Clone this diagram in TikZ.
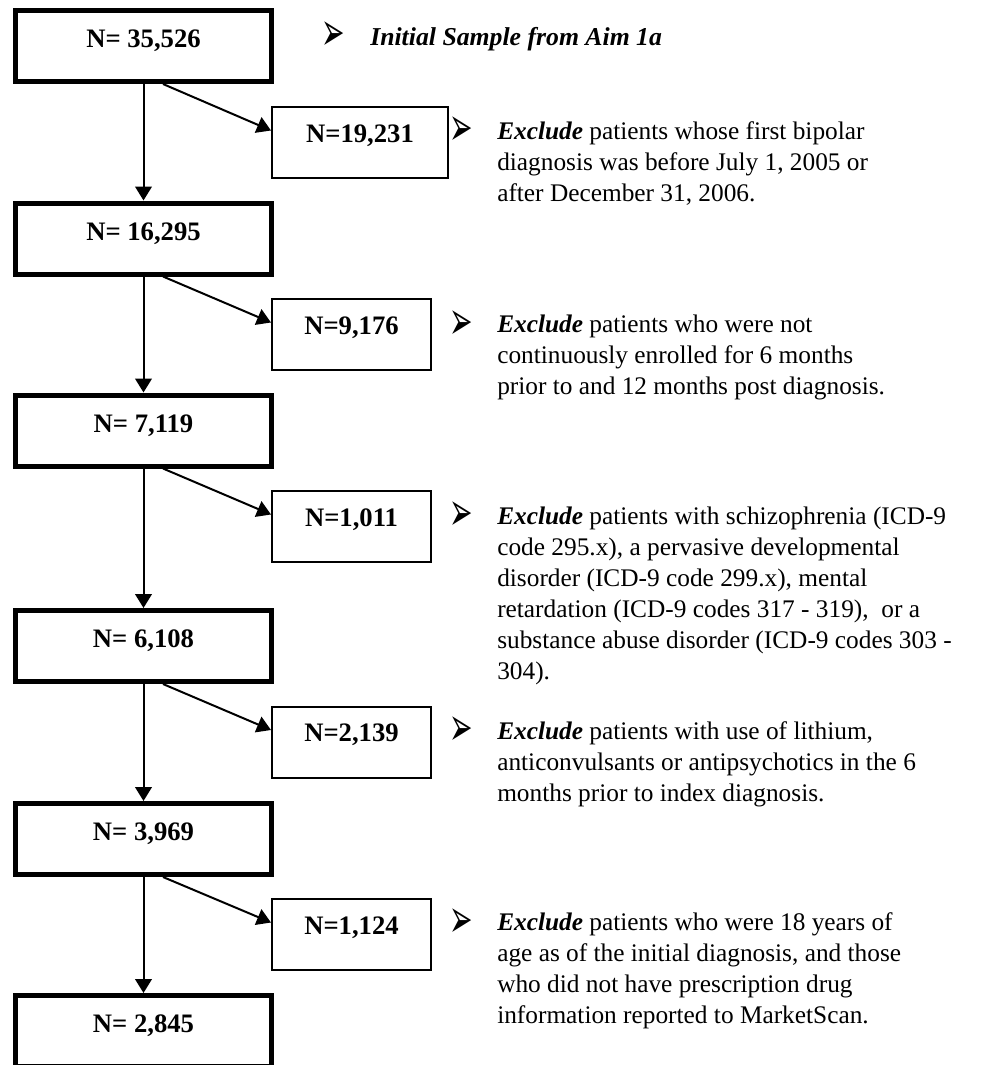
\documentclass[tikz,border=0pt]{standalone}
\usepackage{fontspec}
\setmainfont{Liberation Serif}
\newfontfamily\dejavu{DejaVu Sans}
\usetikzlibrary{arrows.meta,calc}
\newcommand{\bulglyph}{\scalebox{0.78}[1.5]{➢}}
\begin{document}
\begin{tikzpicture}[x=0.75pt,y=-0.75pt,
  mainbox/.style={draw, line width=3.75pt, minimum width=192pt, inner sep=0pt,
    text height=27.75pt, text depth=25.5pt, font=\fontsize{20pt}{24pt}\selectfont\bfseries},
  sidebox/.style={draw, line width=1.5pt, minimum width=119.25pt, inner sep=0pt,
    text height=26.25pt, text depth=27pt, font=\fontsize{20pt}{24pt}\selectfont\bfseries},
  flow/.style={line width=1.5pt, -{Triangle[length=10.5pt,width=12.5pt]}},
  bul/.style={inner sep=0pt, font=\dejavu\fontsize{27pt}{27pt}\selectfont},
  desc/.style={anchor=north west, inner sep=0pt, align=left, font=\fontsize{19pt}{23.25pt}\selectfont},
]
\useasboundingbox (0,0) rectangle (987,1065);

% main boxes
\node[mainbox] (b1) at (143.5,46) {N= 35,526};
\node[mainbox] (b2) at (143.5,238.5) {N= 16,295};
\node[mainbox] (b3) at (143.5,430.5) {N= 7,119};
\node[mainbox] (b4) at (143.5,646) {N= 6,108};
\node[mainbox] (b5) at (143.5,839) {N= 3,969};
\node[mainbox] (b6) at (143.5,1031) {N= 2,845};

% side boxes
\node[sidebox, minimum width=132pt] (s1) at (360,142.5) {N=19,231};
\node[sidebox] (s2) at (351.5,334.5) {N=9,176};
\node[sidebox] (s3) at (351.5,526.5) {N=1,011};
\node[sidebox] (s4) at (351.5,742) {N=2,139};
\node[sidebox] (s5) at (351.5,934.5) {N=1,124};

% vertical arrows
\draw[flow] (b1.south) -- (b2.north);
\draw[flow] (b2.south) -- (b3.north);
\draw[flow] (b3.south) -- (b4.north);
\draw[flow] (b4.south) -- (b5.north);
\draw[flow] (b5.south) -- (b6.north);

% diagonal arrows
\draw[flow] ($(b1.south)+(19.5,0)$) -- ($(s1.west)+(0,-12)$);
\draw[flow] ($(b2.south)+(19.5,0)$) -- ($(s2.west)+(0,-12)$);
\draw[flow] ($(b3.south)+(19.5,0)$) -- ($(s3.west)+(0,-12)$);
\draw[flow] ($(b4.south)+(19.5,0)$) -- ($(s4.west)+(0,-12)$);
\draw[flow] ($(b5.south)+(19.5,0)$) -- ($(s5.west)+(0,-12)$);

% bullets
\node[bul] (u0) at (333,36) {\bulglyph};
\node[bul] (u1) at (461,131) {\bulglyph};
\node[bul] (u2) at (461,325) {\bulglyph};
\node[bul] (u3) at (461,516) {\bulglyph};
\node[bul] (u4) at (461,731) {\bulglyph};
\node[bul] (u5) at (461,923) {\bulglyph};

% descriptions (north west = baseline - 21.7px)
\node[desc, font=\fontsize{19.3pt}{23.25pt}\selectfont\bfseries\itshape] (d0) at (370,23.3) {\strut Initial Sample from Aim 1a};
\node[desc] (d1) at (497,117.8) {\strut\textbf{\textit{Exclude}} patients whose first bipolar\\diagnosis was before July 1, 2005 or\\after December 31, 2006.};
\node[desc] (d2) at (497,311) {\strut\textbf{\textit{Exclude}} patients who were not\\continuously enrolled for 6 months\\prior to and 12 months post diagnosis.};
\node[desc] (d3) at (497,502.3) {\strut\textbf{\textit{Exclude}} patients with schizophrenia (ICD-9\\code 295.x), a pervasive developmental\\disorder (ICD-9 code 299.x), mental\\retardation (ICD-9 codes 317 - 319), \ or a\\substance abuse disorder (ICD-9 codes 303 -\\304).};
\node[desc] (d4) at (497,717.3) {\strut\textbf{\textit{Exclude}} patients with use of lithium,\\anticonvulsants or antipsychotics in the 6\\months prior to index diagnosis.};
\node[desc] (d5) at (497,908.8) {\strut\textbf{\textit{Exclude}} patients who were 18 years of\\age as of the initial diagnosis, and those\\who did not have prescription drug\\information reported to MarketScan.};
\end{tikzpicture}
\end{document}
